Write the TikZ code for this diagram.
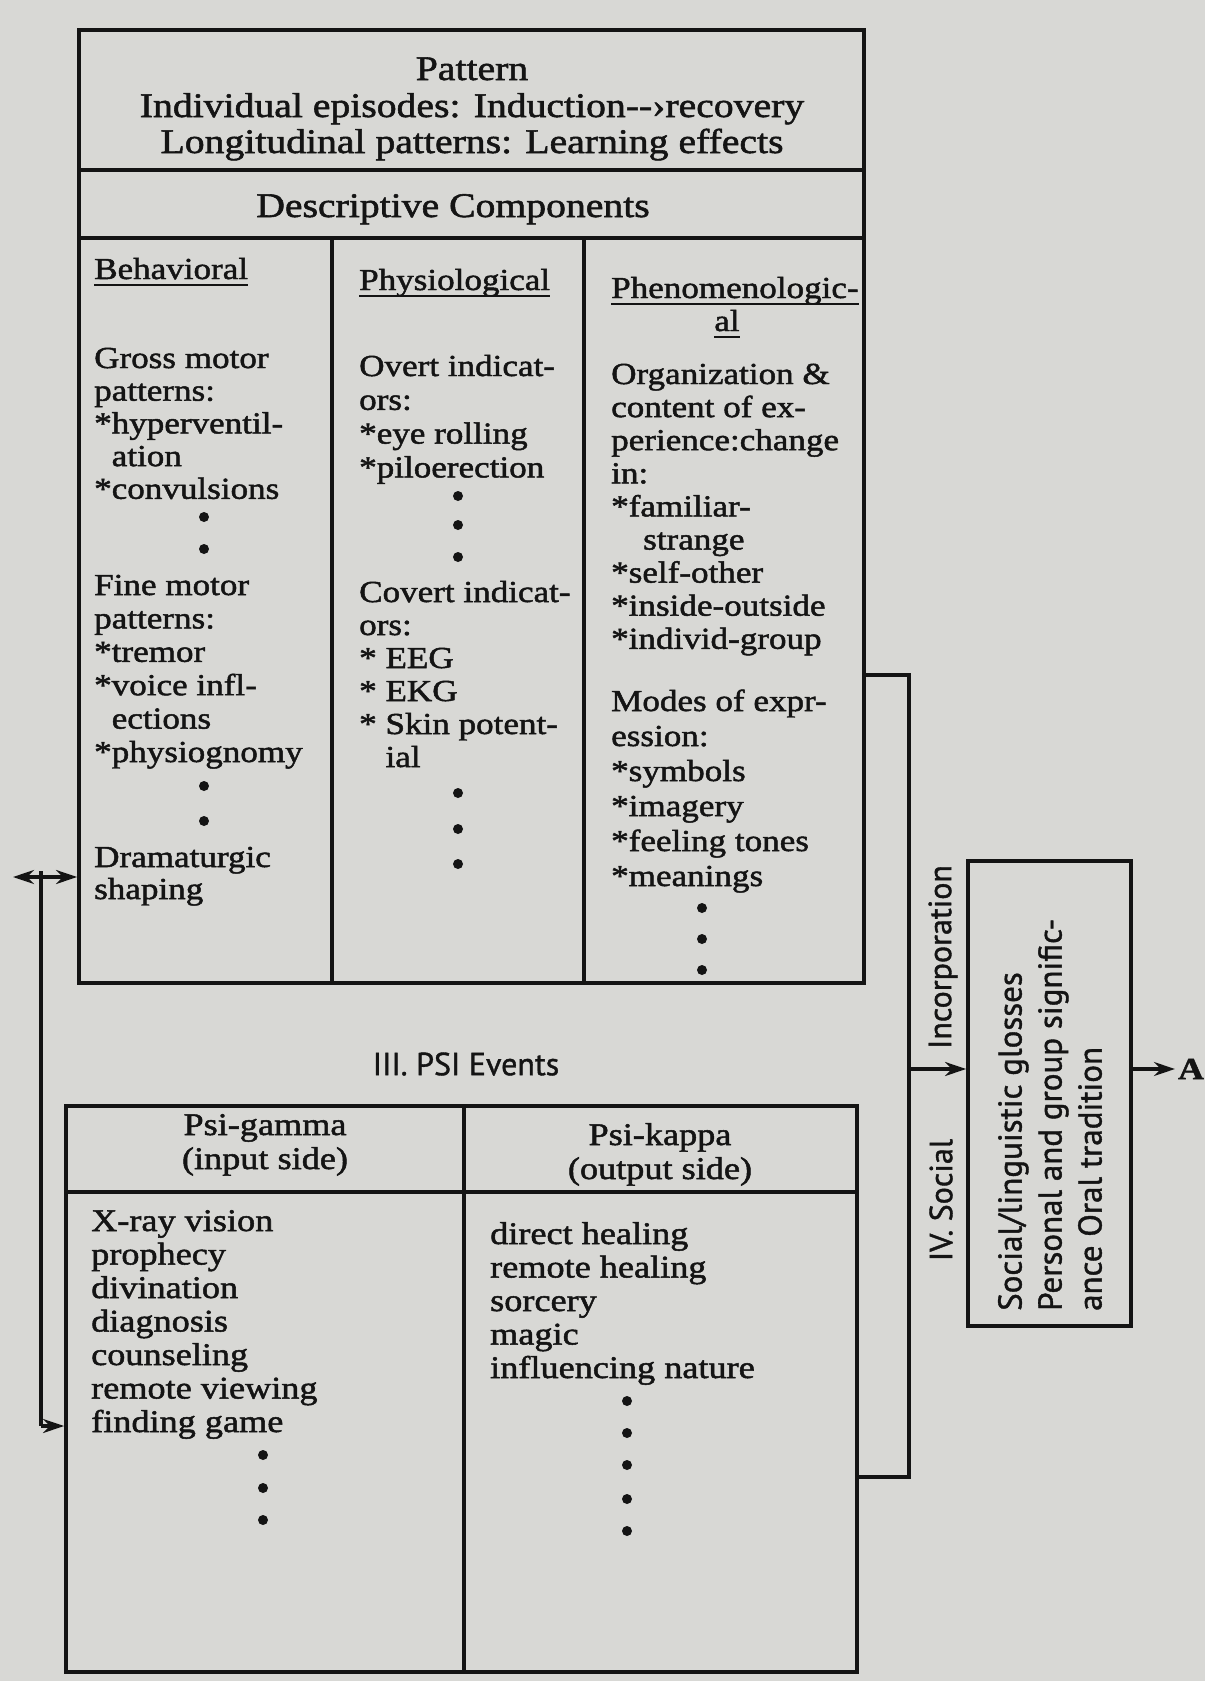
\documentclass[tikz,border=0pt]{standalone}
\usepackage{fontspec}
\setmainfont{Liberation Serif}[FakeStretch=1.15,FakeBold=1.6]
\newfontfamily\sansf{PT Sans}[FakeBold=1.2]
\usetikzlibrary{arrows.meta}
\definecolor{bgc}{RGB}{216,216,213}
\definecolor{ink}{RGB}{20,20,20}
\tikzset{
 txt/.style={inner sep=0pt, text=ink, font=\fontsize{30.5}{33}\selectfont},
 ptxt/.style={inner sep=0pt, text=ink, font=\fontsize{31.5}{33.5}\selectfont},
 hdr/.style={inner sep=0pt, text=ink, font=\fontsize{34.5}{36}\selectfont},
 sanst/.style={inner sep=0pt, text=ink, font=\sansf\fontsize{32}{40}\selectfont},
 boxst/.style={draw=ink, line width=3.8pt, inner sep=0pt},
 rule/.style={draw=ink, line width=3.8pt},
 uline/.style={draw=ink, line width=2.2pt},
 conn/.style={draw=ink, line width=3.2pt},
 tipend/.style={-{Stealth[length=21pt,width=14pt]}},
 tipboth/.style={{Stealth[length=21pt,width=14pt]}-{Stealth[length=21pt,width=14pt]}},
}
\newcommand\txtlines[6][txt]{\foreach \lin [count=\i] in {#6} {\node[#1,anchor=base west] (#2\i) at (#3,{#4+#5*(\i-1)}) {\lin};}}
\newcommand\bdot[2]{\fill[ink] (#1,#2) circle[radius=5pt];}
\begin{document}
\begin{tikzpicture}[x=1pt,y=-1pt]
\fill[bgc] (0,0) rectangle (1205,1681);
\useasboundingbox (0,0) rectangle (1205,1681);

% ---------------- top table ----------------
\node[boxst, minimum width=785pt, minimum height=953pt] (tbox) at (471.5,506.5) {};
\draw[rule] (79,170) -- (864,170);
\draw[rule] (79,238) -- (864,238);
\draw[rule] (332,238) -- (332,983);
\draw[rule] (584,238) -- (584,983);

\node[hdr, anchor=base] (pat1) at (472,80) {Pattern};
\node[hdr, anchor=base] (pat2) at (472,117) {Individual episodes: Induction-{}-›recovery};
\node[hdr, anchor=base] (pat3) at (472,153) {Longitudinal patterns: Learning effects};
\node[hdr, anchor=base] (desc) at (453,217) {Descriptive Components};

% column heads
\node[txt, anchor=base west] (beh) at (94,279) {Behavioral};
\draw[uline] ([yshift=-6pt]beh.base west) -- ([yshift=-6pt]beh.base east);
\node[txt, anchor=base west] (phy) at (359,290) {Physiological};
\draw[uline] ([yshift=-6pt]phy.base west) -- ([yshift=-6pt]phy.base east);
\node[txt, anchor=base west] (phen) at (611,298) {Phenomenologic-};
\draw[uline] ([yshift=-6pt]phen.base west) -- ([yshift=-6pt]phen.base east);
\node[txt, anchor=base] (phal) at (727,331) {al};
\draw[uline] ([yshift=-6pt]phal.base west) -- ([yshift=-6pt]phal.base east);

% behavioral
\txtlines{ba}{94}{368}{32.7}{Gross motor, patterns:, *hyperventil-, \phantom{*}ation, *convulsions}
\bdot{204}{517}\bdot{204}{549}
\txtlines{bb}{94}{595}{33.4}{Fine motor, patterns:, *tremor, *voice infl-, \phantom{*}ections, *physiognomy}
\bdot{204}{786}\bdot{204}{821}
\txtlines{bc}{94}{867}{32}{Dramaturgic, shaping}

% physiological
\txtlines{pa}{359}{376}{33.8}{Overt indicat-, ors:, *eye rolling, *piloerection}
\bdot{458}{496}\bdot{458}{525}\bdot{458}{557}
\txtlines{pb}{359}{602}{33}{Covert indicat-, ors:, * EEG, * EKG, * Skin potent-, \phantom{* }ial}
\bdot{458}{793}\bdot{458}{829}\bdot{458}{864}

% phenomenological
\txtlines{ha}{611}{384}{33.1}{Organization \&, content of ex-, perience:change, in:, *familiar-, \hspace*{32pt}strange, *self-other, *inside-outside, *individ-group}
\txtlines{hb}{611}{711}{35}{Modes of expr-, ession:, *symbols, *imagery, *feeling tones, *meanings}
\bdot{702}{908}\bdot{702}{939}\bdot{702}{970}

% ---------------- PSI table ----------------
\node[sanst] (psi) at (466,1064) {III. PSI Events};
\node[boxst, minimum width=791pt, minimum height=566pt] (pbox) at (461.5,1389) {};
\draw[rule] (66,1192) -- (857,1192);
\draw[rule] (464,1106) -- (464,1672);
\node[ptxt, anchor=base] (pg1) at (265,1135) {Psi-gamma};
\node[ptxt, anchor=base] (pg2) at (265,1169) {(input side)};
\node[ptxt, anchor=base] (pk1) at (660,1145) {Psi-kappa};
\node[ptxt, anchor=base] (pk2) at (660,1179) {(output side)};
\txtlines[ptxt]{ga}{91}{1231}{33.5}{X-ray vision, prophecy, divination, diagnosis, counseling, remote viewing, finding game}
\bdot{263}{1455}\bdot{263}{1488}\bdot{263}{1520}
\txtlines[ptxt]{ka}{490}{1244}{33.5}{direct healing, remote healing, sorcery, magic, influencing nature}
\bdot{627}{1401}\bdot{627}{1433}\bdot{627}{1465}\bdot{627}{1499}\bdot{627}{1531}

% ---------------- social box ----------------
\node[boxst, minimum width=163pt, minimum height=465pt] (gbox) at (1049.5,1093.5) {};
\node[sanst, rotate=90, anchor=west, align=left, font=\sansf\fontsize{33}{40}\selectfont] (gtxt) at (1050,1311) {Social/linguistic glosses\\Personal and group signific-\\ance Oral tradition};
\node[sanst, rotate=90] (incl) at (943,957) {Incorporation};
\node[sanst, rotate=90] (soc) at (941,1200) {IV. Social};
\node[inner sep=0pt, text=ink, font={\fontsize{31}{31}\selectfont\bfseries}] (A) at (1191,1069) {A};

% ---------------- connectors ----------------
\coordinate (rtop) at (909,675);
\coordinate (rbot) at (909,1477);
\coordinate (inc) at (909,1069);
\draw[conn] (tbox.east |- rtop) -- (rtop) -- (rbot) -- (pbox.east |- rbot);
\draw[conn, tipend] (inc) -- (inc -| gbox.west);
\draw[conn, tipend] (inc -| gbox.east) -- ([xshift=-3pt]A.west);

\coordinate (lft) at (13,877);
\coordinate (ljt) at (41,871);
\coordinate (lbt) at (41,1426);
\draw[conn, tipboth] (lft) -- (lft -| tbox.west);
\draw[conn] (ljt) -- (lbt);
\draw[conn, tipend] (lbt) -- (lbt -| pbox.west);
\end{tikzpicture}
\end{document}
